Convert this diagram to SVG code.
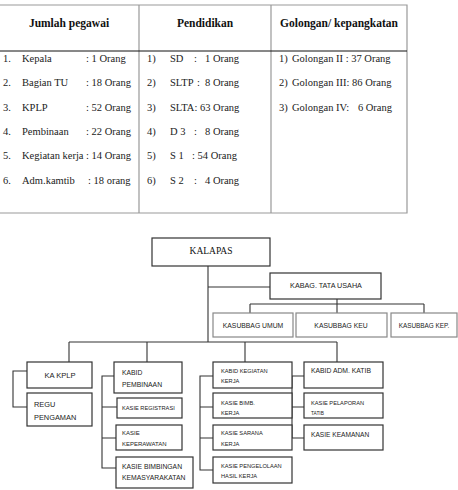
<svg xmlns="http://www.w3.org/2000/svg" width="458" height="490" viewBox="0 0 458 490">
<style>
.tb{font-family:"Liberation Serif","Times New Roman",serif;font-size:10.5px;fill:#222}
.th{font-family:"Liberation Serif","Times New Roman",serif;font-size:11.5px;font-weight:bold;fill:#111;text-anchor:middle}
.gl{stroke:#999;stroke-width:1.2;fill:none}
.bl{stroke:#111;stroke-width:1;fill:none}
.box{fill:#fff;stroke:#333;stroke-width:1.2}
.boxl{fill:#fff;stroke:#888;stroke-width:1.2}
.t{font-family:"Liberation Sans",Arial,sans-serif;font-size:6.8px;fill:#222}
.s{font-family:"Liberation Sans",Arial,sans-serif;font-size:5.7px;fill:#222}
.c{text-anchor:middle}
.ln{stroke:#333;stroke-width:1.1;fill:none}
</style>
<rect width="458" height="490" fill="#fff"/>
<g id="table">
<path class="gl" d="M0 5H407V213H0M139 5V213M271 5V213"/>
<path class="bl" d="M0 51H407"/>
<text class="th" x="69" y="27">Jumlah pegawai</text>
<text class="th" x="205" y="27">Pendidikan</text>
<text class="th" x="339" y="27">Golongan/ kepangkatan</text>
<text class="tb"><tspan x="3" y="62">1.</tspan><tspan x="22" y="62">Kepala</tspan><tspan x="86" y="62">: 1 Orang</tspan></text>
<text class="tb"><tspan x="3" y="86">2.</tspan><tspan x="22" y="86">Bagian TU</tspan><tspan x="86" y="86">: 18 Orang</tspan></text>
<text class="tb"><tspan x="3" y="111">3.</tspan><tspan x="22" y="111">KPLP</tspan><tspan x="86" y="111">: 52 Orang</tspan></text>
<text class="tb"><tspan x="3" y="135">4.</tspan><tspan x="22" y="135">Pembinaan</tspan><tspan x="86" y="135">: 22 Orang</tspan></text>
<text class="tb"><tspan x="3" y="159">5.</tspan><tspan x="22" y="159">Kegiatan kerja</tspan><tspan x="86" y="159">: 14 Orang</tspan></text>
<text class="tb"><tspan x="3" y="184">6.</tspan><tspan x="22" y="184">Adm.kamtib</tspan><tspan x="88" y="184">: 18 orang</tspan></text>
<text class="tb"><tspan x="147" y="62">1)</tspan><tspan x="170" y="62">SD</tspan><tspan x="194" y="62">:</tspan><tspan x="205" y="62">1 Orang</tspan></text>
<text class="tb"><tspan x="147" y="86">2)</tspan><tspan x="170" y="86">SLTP</tspan><tspan x="197" y="86">:</tspan><tspan x="205" y="86">8 Orang</tspan></text>
<text class="tb"><tspan x="147" y="111">3)</tspan><tspan x="170" y="111">SLTA: 63 Orang</tspan></text>
<text class="tb"><tspan x="147" y="135">4)</tspan><tspan x="170" y="135">D 3</tspan><tspan x="194" y="135">:</tspan><tspan x="205" y="135">8 Orang</tspan></text>
<text class="tb"><tspan x="147" y="159">5)</tspan><tspan x="170" y="159">S 1</tspan><tspan x="192" y="159">: 54 Orang</tspan></text>
<text class="tb"><tspan x="147" y="184">6)</tspan><tspan x="170" y="184">S 2</tspan><tspan x="194" y="184">:</tspan><tspan x="205" y="184">4 Orang</tspan></text>
<text class="tb"><tspan x="279" y="62">1)</tspan><tspan x="292" y="62">Golongan II : 37 Orang</tspan></text>
<text class="tb"><tspan x="279" y="86">2)</tspan><tspan x="292" y="86">Golongan III: 86 Orang</tspan></text>
<text class="tb"><tspan x="279" y="111">3)</tspan><tspan x="292" y="111">Golongan IV:</tspan></text>
<text class="tb" x="392" y="111" text-anchor="end">6 Orang</text>
</g>
<g id="connectors">
<path class="ln" d="M208 266V342M208 287H270M337 299V304M250 304H424M250 304V313M337 304V313M424 304V313"/>
<path class="ln" d="M69 342H337M69 342V362M147 342V362M245 342V362M337 342V362"/>
<path class="ln" d="M27 371H13V407H27"/>
<path class="ln" d="M114 376H102V468H116M102 407H117M102 438H116"/>
<path class="ln" d="M213 376H200V470H213M200 407H213M200 438H213"/>
<path class="ln" d="M304 376H292V438H304M292 407H304"/>
</g>
<g id="kalapas"><rect class="box" x="152" y="238" width="118" height="28"/><text x="211" y="254" class="c" style="font-family:'Liberation Serif',serif;font-size:9.5px;fill:#111">KALAPAS</text></g>
<g id="kabag"><rect class="box" x="270" y="273" width="111" height="26"/><text x="326" y="288" class="t c" style="font-size:7.2px">KABAG. TATA USAHA</text></g>
<g id="kasubbag-umum"><rect class="boxl" x="213" y="313" width="80" height="24"/><text x="253" y="328" class="t c">KASUBBAG UMUM</text></g>
<g id="kasubbag-keu"><rect class="boxl" x="296" y="313" width="91" height="24"/><text x="341" y="328" class="t c">KASUBBAG KEU</text></g>
<g id="kasubbag-kep"><rect class="boxl" x="391" y="313" width="66" height="24"/><text x="424" y="328" class="t c" style="font-size:6.4px">KASUBBAG KEP.</text></g>
<g id="ka-kplp"><rect class="box" x="27" y="362" width="65" height="26"/><text x="60" y="378" class="t c" style="font-size:7.6px">KA KPLP</text></g>
<g id="regu-pengaman"><rect class="box" x="27" y="393" width="65" height="33"/><text class="t" style="font-size:7.4px"><tspan x="34" y="407">REGU</tspan><tspan x="34" y="420">PENGAMAN</tspan></text></g>
<g id="kabid-pembinaan"><rect class="box" x="114" y="362" width="68" height="31"/><text class="t"><tspan x="122" y="375">KABID</tspan><tspan x="122" y="387">PEMBINAAN</tspan></text></g>
<g id="kasie-registrasi"><rect class="box" x="117" y="398" width="65" height="20"/><text x="122" y="410" class="s">KASIE REGISTRASI</text></g>
<g id="kasie-keperawatan"><rect class="box" x="116" y="425" width="66" height="25"/><text class="s" style="font-size:6px"><tspan x="122" y="435">KASIE</tspan><tspan x="122" y="446">KEPERAWATAN</tspan></text></g>
<g id="kasie-bimbingan"><rect class="box" x="116" y="457" width="77" height="31"/><text class="t"><tspan x="122" y="469">KASIE BIMBINGAN</tspan><tspan x="122" y="480">KEMASYARAKATAN</tspan></text></g>
<g id="kabid-kegiatan"><rect class="box" x="213" y="362" width="79" height="26"/><text class="s"><tspan x="221" y="373">KABID KEGIATAN</tspan><tspan x="221" y="383">KERJA</tspan></text></g>
<g id="kasie-bimb-kerja"><rect class="box" x="213" y="393" width="79" height="25"/><text class="s"><tspan x="221" y="405">KASIE BIMB.</tspan><tspan x="221" y="415">KERJA</tspan></text></g>
<g id="kasie-sarana"><rect class="box" x="213" y="425" width="79" height="25"/><text class="s"><tspan x="221" y="435">KASIE SARANA</tspan><tspan x="221" y="446">KERJA</tspan></text></g>
<g id="kasie-pengelolaan"><rect class="box" x="213" y="457" width="79" height="26"/><text class="s"><tspan x="221" y="468">KASIE PENGELOLAAN</tspan><tspan x="221" y="478">HASIL KERJA</tspan></text></g>
<g id="kabid-adm"><rect class="box" x="304" y="362" width="79" height="26"/><text x="311" y="373" class="t">KABID ADM. KATIB</text></g>
<g id="kasie-pelaporan"><rect class="box" x="304" y="393" width="79" height="25"/><text class="s"><tspan x="311" y="405">KASIE PELAPORAN</tspan><tspan x="311" y="415" style="font-size:4.8px">TATIB</tspan></text></g>
<g id="kasie-keamanan"><rect class="box" x="304" y="425" width="79" height="25"/><text x="311" y="437" class="t" style="font-size:6.6px">KASIE KEAMANAN</text></g>
</svg>
